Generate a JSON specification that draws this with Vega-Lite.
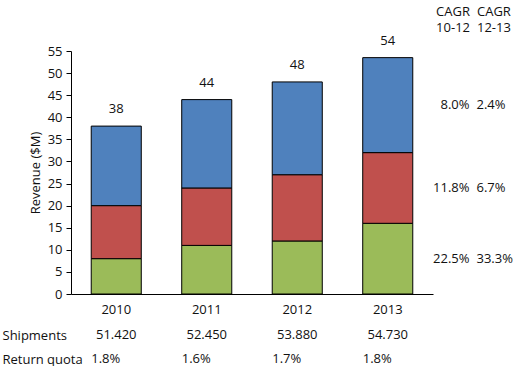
{
  "$schema": "https://vega.github.io/schema/vega-lite/v6.json",
  "padding": {"left": 2, "top": 5, "right": 0, "bottom": 0},
  "background": "white",
  "datasets": {
    "revenue": [
      {"year": "2010", "segment": "A", "value": 8},
      {"year": "2010", "segment": "B", "value": 12},
      {"year": "2010", "segment": "C", "value": 18},
      {"year": "2011", "segment": "A", "value": 11},
      {"year": "2011", "segment": "B", "value": 13},
      {"year": "2011", "segment": "C", "value": 20},
      {"year": "2012", "segment": "A", "value": 12},
      {"year": "2012", "segment": "B", "value": 15},
      {"year": "2012", "segment": "C", "value": 21},
      {"year": "2013", "segment": "A", "value": 16},
      {"year": "2013", "segment": "B", "value": 16},
      {"year": "2013", "segment": "C", "value": 21.5}
    ],
    "cagr": [
      {"segment": "A", "10-12": "22.5%", "12-13": "33.3%"},
      {"segment": "B", "10-12": "11.8%", "12-13": "6.7%"},
      {"segment": "C", "10-12": "8.0%", "12-13": "2.4%"}
    ],
    "table": [
      {"year": "2010", "metric": "Shipments", "text": "51.420"},
      {"year": "2011", "metric": "Shipments", "text": "52.450"},
      {"year": "2012", "metric": "Shipments", "text": "53.880"},
      {"year": "2013", "metric": "Shipments", "text": "54.730"},
      {"year": "2010", "metric": "Return quota", "text": "1.8%"},
      {"year": "2011", "metric": "Return quota", "text": "1.6%"},
      {"year": "2012", "metric": "Return quota", "text": "1.7%"},
      {"year": "2013", "metric": "Return quota", "text": "1.8%"}
    ]
  },
  "spacing": 7,
  "vconcat": [
    {
      "width": 362,
      "height": 243,
      "resolve": {"scale": {"x": "independent"}, "axis": {"x": "independent"}},
      "layer": [
        {
          "data": {"name": "revenue"},
          "encoding": {
            "x": {
              "field": "year", "type": "nominal",
              "scale": {"paddingInner": 0.447, "paddingOuter": 0.2235},
              "axis": {"title": null, "labelAngle": 0, "ticks": false, "labelPadding": 9}
            },
            "y": {
              "field": "value", "type": "quantitative", "aggregate": "sum",
              "scale": {"domain": [0, 55], "nice": false},
              "axis": {"title": "Revenue ($M)", "values": [0, 5, 10, 15, 20, 25, 30, 35, 40, 45, 50, 55], "tickSize": 5, "labelPadding": 4, "titlePadding": 5}
            }
          },
          "layer": [
            {
              "mark": {"type": "bar", "stroke": "black", "strokeWidth": 1},
              "encoding": {
                "color": {
                  "field": "segment", "type": "nominal",
                  "scale": {"domain": ["A", "B", "C"], "range": ["#9BBB59", "#C0504D", "#4F81BD"]},
                  "legend": null
                },
                "order": {"field": "segment", "type": "nominal", "sort": "ascending"}
              }
            },
            {
              "mark": {"type": "text", "baseline": "bottom", "dy": -10},
              "encoding": {
                "text": {"field": "value", "type": "quantitative", "aggregate": "sum", "format": ".0f"}
              }
            }
          ]
        },
        {
          "data": {"name": "revenue"},
          "transform": [
            {"filter": "datum.year == '2013'"},
            {"stack": "value", "groupby": ["year"], "sort": [{"field": "segment", "order": "ascending"}], "as": ["v0", "v1"]},
            {"calculate": "(datum.v0 + datum.v1) / 2", "as": "mid"},
            {"lookup": "segment", "from": {"data": {"name": "cagr"}, "key": "segment", "fields": ["10-12", "12-13"]}},
            {"fold": ["10-12", "12-13"], "as": ["period", "rate"]}
          ],
          "encoding": {
            "x": {
              "field": "period", "type": "nominal",
              "scale": {"type": "point", "domain": ["10-12", "12-13"], "range": [395, 409]},
              "axis": {
                "orient": "top", "title": null, "domain": false, "ticks": false, "labelAngle": 0,
                "labelPadding": 33, "labelLineHeight": 16,
                "labelExpr": "['CAGR', datum.label]",
                "labelAlign": {"condition": {"test": "datum.value == '10-12'", "value": "right"}, "value": "left"}
              }
            },
            "y": {
              "field": "mid", "type": "quantitative",
              "scale": {"domain": [0, 55], "nice": false},
              "axis": {"title": "Revenue ($M)", "values": [0, 5, 10, 15, 20, 25, 30, 35, 40, 45, 50, 55], "tickSize": 5, "labelPadding": 4, "titlePadding": 5}
            },
            "text": {"field": "rate", "type": "nominal"}
          },
          "layer": [
            {"transform": [{"filter": "datum.period == '10-12'"}], "mark": {"type": "text", "align": "right"}},
            {"transform": [{"filter": "datum.period == '12-13'"}], "mark": {"type": "text", "align": "left"}}
          ]
        }
      ]
    },
    {
      "width": 362,
      "height": 48,
      "data": {"name": "table"},
      "encoding": {
        "x": {
          "field": "year", "type": "nominal",
          "scale": {"paddingInner": 0.447, "paddingOuter": 0.2235},
          "axis": null
        },
        "y": {
          "field": "metric", "type": "nominal",
          "scale": {"domain": ["Shipments", "Return quota"], "paddingInner": 0, "paddingOuter": 0},
          "axis": {"title": null, "domain": false, "ticks": false, "tickSize": 0, "labelAlign": "left", "labelPadding": 69}
        },
        "text": {"field": "text", "type": "nominal"}
      },
      "layer": [
        {"transform": [{"filter": "datum.metric == 'Shipments'"}], "mark": {"type": "text"}},
        {
          "transform": [{"filter": "datum.metric == 'Return quota'"}],
          "mark": {"type": "text", "align": "left", "dx": -25}
        }
      ]
    }
  ],
  "config": {
    "font": "Open Sans",
    "view": {"stroke": null},
    "axis": {
      "labelFont": "Open Sans", "labelFontSize": 13, "labelColor": "#111111",
      "titleFont": "Open Sans", "titleFontSize": 13, "titleFontWeight": "normal", "titleColor": "#111111",
      "domainColor": "black", "tickColor": "black", "grid": false
    },
    "text": {"font": "Open Sans", "fontSize": 13, "color": "#111111"}
  }
}
